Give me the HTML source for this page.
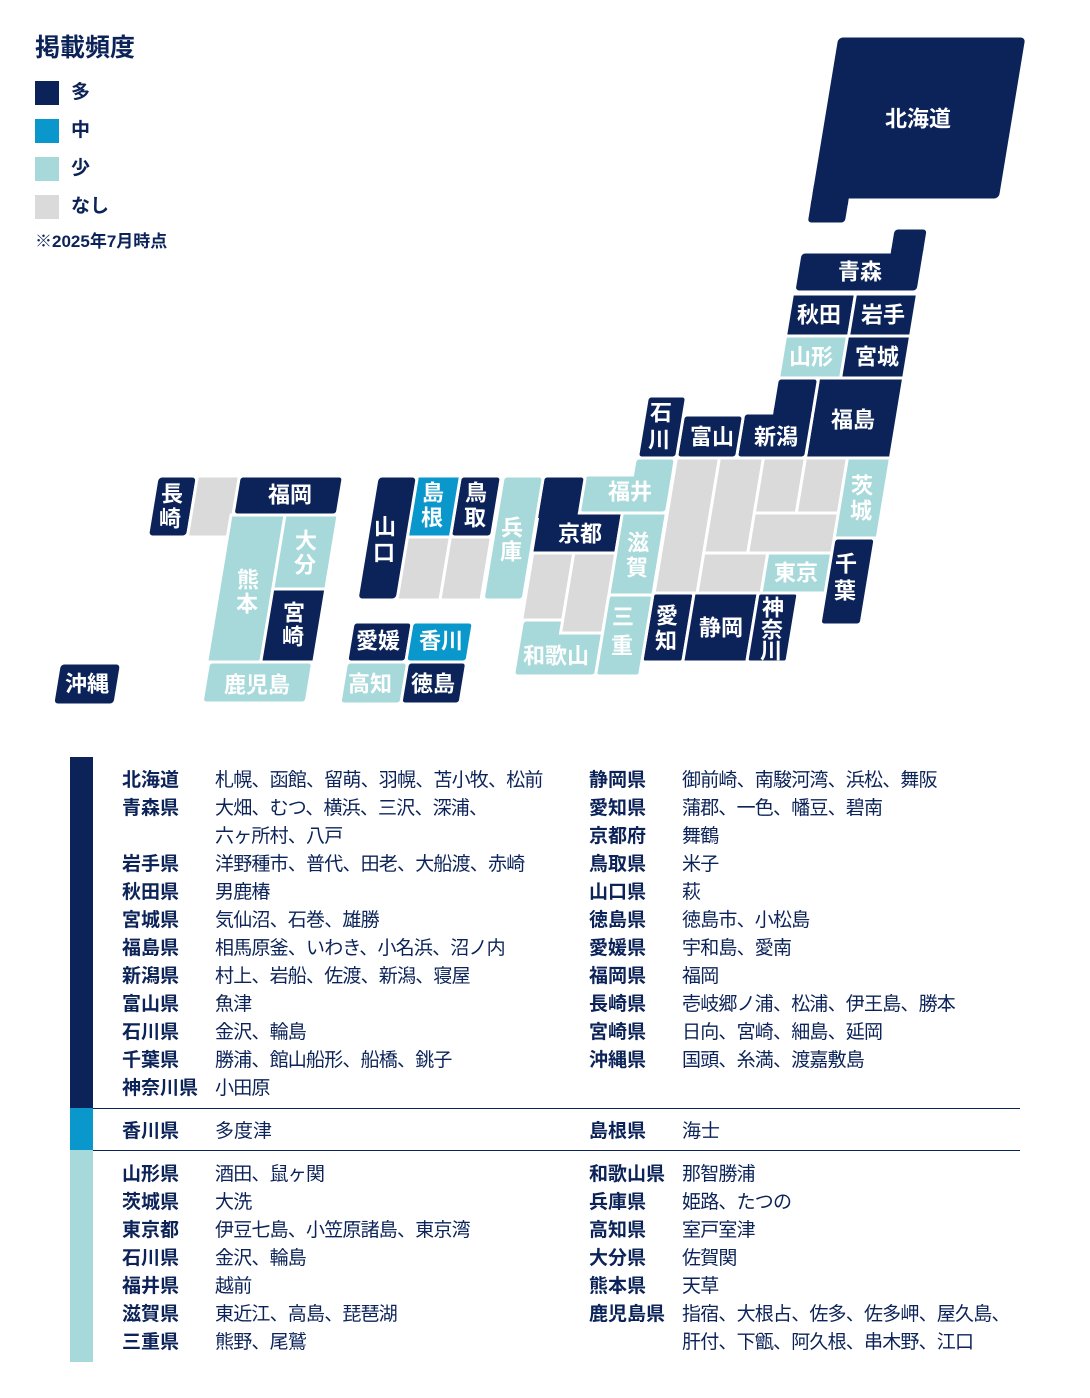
<!DOCTYPE html>
<html><head><meta charset="utf-8"><style>
body{margin:0;background:#fff;width:1090px;height:1398px;position:relative;overflow:hidden;font-family:"Liberation Sans","Noto Sans CJK JP",sans-serif;color:#0c2359}
.a{position:absolute;white-space:nowrap;line-height:28px;font-size:19px}
.v{letter-spacing:-0.8px}
.b{font-weight:bold}
.sq{position:absolute;left:35px;width:24px;height:24px}
</style></head><body>
<div class="a b" style="left:35px;top:34px;font-size:25px">掲載頻度</div>
<div class="sq" style="top:81px;background:#0c2359"></div><div class="a b" style="left:71px;top:79px">多</div>
<div class="sq" style="top:119px;background:#0a98cc"></div><div class="a b" style="left:71px;top:117px">中</div>
<div class="sq" style="top:157px;background:#a7d9da"></div><div class="a b" style="left:71px;top:155px">少</div>
<div class="sq" style="top:195px;background:#dadada"></div><div class="a b" style="left:71px;top:193px">なし</div>
<div class="a b" style="left:35px;top:228px;font-size:17px">※2025年7月時点</div>

<svg width="1090" height="720" style="position:absolute;left:0;top:0">
<g transform="matrix(1 0 -0.165 1 66 0)" stroke="#fff" stroke-width="3">
<rect x="777" y="190" width="40" height="34" rx="5" fill="#0c2359"/>
<rect x="777" y="36" width="190" height="164" rx="6" fill="#0c2359"/>
<rect x="778.5" y="185" width="37" height="20" fill="#0c2359" stroke="none"/>
<rect x="865" y="228" width="35" height="30" rx="5" fill="#0c2359"/>
<rect x="776" y="252" width="124" height="40" rx="5" fill="#0c2359"/>
<rect x="866.5" y="248" width="32" height="8" fill="#0c2359" stroke="none"/>
<rect x="775" y="294" width="63" height="42" fill="#0c2359"/>
<rect x="838" y="294" width="62" height="42" fill="#0c2359"/>
<rect x="775" y="336" width="62" height="42" fill="#a7d9da"/>
<rect x="837" y="336" width="63" height="42" fill="#0c2359"/>
<rect x="815" y="378" width="85" height="80" fill="#0c2359"/>
<rect x="774" y="378" width="41" height="38" rx="4" fill="#0c2359"/>
<rect x="746" y="413" width="69" height="45" rx="4" fill="#0c2359"/>
<rect x="775.5" y="408" width="38" height="10" fill="#0c2359" stroke="none"/>
<rect x="686" y="415" width="60" height="43" rx="4" fill="#0c2359"/>
<rect x="647" y="396" width="39" height="62" rx="4" fill="#0c2359"/>
<rect x="645" y="458" width="40" height="20" rx="4" fill="#a7d9da"/>
<rect x="597" y="475" width="88" height="38" rx="4" fill="#a7d9da"/>
<rect x="646.5" y="472" width="37" height="8" fill="#a7d9da" stroke="none"/>
<rect x="686" y="458" width="43" height="135" fill="#dadada"/>
<rect x="729" y="458" width="44" height="95" fill="#dadada"/>
<rect x="773" y="458" width="42" height="55" fill="#dadada"/>
<rect x="815" y="458" width="42" height="55" fill="#dadada"/>
<rect x="773" y="513" width="84" height="40" fill="#dadada"/>
<rect x="729" y="553" width="64" height="40" fill="#dadada"/>
<rect x="793" y="553" width="64" height="40" fill="#a7d9da"/>
<rect x="857" y="458" width="43" height="80" fill="#a7d9da"/>
<rect x="857" y="538" width="41" height="87" rx="4" fill="#0c2359"/>
<rect x="685" y="593" width="41" height="69" rx="3" fill="#0c2359"/>
<rect x="726" y="593" width="64" height="69" fill="#0c2359"/>
<rect x="790" y="593" width="40" height="69" rx="3" fill="#0c2359"/>
<rect x="556" y="476" width="42" height="40" rx="4" fill="#0c2359"/>
<rect x="557" y="513" width="84" height="40" fill="#0c2359"/>
<rect x="557.5" y="510" width="39" height="8" fill="#0c2359" stroke="none"/>
<rect x="641" y="513" width="44" height="82" fill="#a7d9da"/>
<rect x="559" y="620" width="82" height="56" rx="4" fill="#a7d9da"/>
<rect x="558" y="553" width="41" height="67" fill="#dadada"/>
<rect x="599" y="553" width="42" height="80" fill="#dadada"/>
<rect x="641" y="595" width="44" height="81" rx="3" fill="#a7d9da"/>
<rect x="516" y="476" width="40" height="124" rx="4" fill="#a7d9da"/>
<rect x="473" y="476" width="41" height="61" rx="4" fill="#0c2359"/>
<rect x="430" y="476" width="43" height="61" fill="#0a98cc"/>
<rect x="430" y="537" width="43" height="63" fill="#dadada"/>
<rect x="473" y="537" width="41" height="63" fill="#dadada"/>
<rect x="390" y="476" width="40" height="124" rx="5" fill="#0c2359"/>
<rect x="390" y="622" width="59" height="40" rx="4" fill="#0c2359"/>
<rect x="449" y="622" width="61" height="40" rx="4" fill="#0a98cc"/>
<rect x="390" y="662" width="61" height="42" rx="4" fill="#a7d9da"/>
<rect x="451" y="662" width="59" height="42" rx="4" fill="#0c2359"/>
<rect x="170" y="476" width="40" height="61" rx="5" fill="#0c2359"/>
<rect x="210" y="476" width="42" height="61" fill="#dadada"/>
<rect x="252" y="476" width="104" height="39" rx="4" fill="#0c2359"/>
<rect x="250" y="515" width="54" height="147" fill="#a7d9da"/>
<rect x="304" y="515" width="53" height="74" fill="#a7d9da"/>
<rect x="304" y="589" width="53" height="73" fill="#0c2359"/>
<rect x="252" y="662" width="104" height="41" rx="4" fill="#a7d9da"/>
<rect x="103" y="663" width="62" height="42" rx="5" fill="#0c2359"/>
</g>
<g fill="#fff" font-weight="bold" font-size="22" text-anchor="middle" dominant-baseline="central" font-family="Liberation Sans, Noto Sans CJK JP, sans-serif">
<text x="918" y="119">北海道</text><text x="860" y="272">青森</text>
<text x="819" y="315">秋田</text><text x="883" y="315">岩手</text>
<text x="811" y="357">山形</text><text x="877" y="357">宮城</text>
<text x="853" y="420">福島</text><text x="776" y="437">新潟</text><text x="712" y="437">富山</text>
<text x="661" y="413">石</text><text x="659" y="440">川</text>
<text x="630" y="492">福井</text><text x="580" y="534">京都</text>
<text x="512" y="528">兵</text><text x="511" y="552">庫</text>
<text x="638" y="543">滋</text><text x="637" y="568">賀</text>
<text x="623" y="617">三</text><text x="622" y="646">重</text>
<text x="556" y="656">和歌山</text>
<text x="667" y="616">愛</text><text x="666" y="641">知</text>
<text x="721" y="628">静岡</text>
<text x="773" y="608">神</text><text x="772" y="630">奈</text><text x="771" y="651">川</text>
<text x="796" y="573">東京</text>
<text x="862" y="486">茨</text><text x="861" y="511">城</text>
<text x="846" y="564">千</text><text x="845" y="591">葉</text>
<text x="476" y="493">鳥</text><text x="475" y="518">取</text>
<text x="433" y="493">島</text><text x="432" y="518">根</text>
<text x="385" y="527">山</text><text x="384" y="553">口</text>
<text x="172" y="494">長</text><text x="170" y="519">崎</text>
<text x="290" y="495">福岡</text>
<text x="248" y="580">熊</text><text x="247" y="604">本</text>
<text x="306" y="541">大</text><text x="305" y="565">分</text>
<text x="294" y="613">宮</text><text x="293" y="637">崎</text>
<text x="257" y="685">鹿児島</text>
<text x="378" y="641">愛媛</text><text x="441" y="641">香川</text>
<text x="370" y="684">高知</text><text x="433" y="684">徳島</text>
<text x="87" y="684">沖縄</text>
</g>
</svg>

<div style="position:absolute;left:70px;top:757px;width:23px;height:351px;background:#0c2359"></div>
<div style="position:absolute;left:70px;top:1108px;width:23px;height:42px;background:#0a98cc"></div>
<div style="position:absolute;left:70px;top:1150px;width:23px;height:212px;background:#a7d9da"></div>
<div style="position:absolute;left:93px;top:1108px;width:927px;height:1px;background:#0c2359"></div>
<div style="position:absolute;left:93px;top:1150px;width:927px;height:1px;background:#0c2359"></div>

<div class="a b" style="left:122px;top:767px">北海道<br>青森県<br><br>岩手県<br>秋田県<br>宮城県<br>福島県<br>新潟県<br>富山県<br>石川県<br>千葉県<br>神奈川県</div>
<div class="a v" style="left:215px;top:767px">札幌、函館、留萌、羽幌、苫小牧、松前<br>大畑、むつ、横浜、三沢、深浦、<br>六ヶ所村、八戸<br>洋野種市、普代、田老、大船渡、赤崎<br>男鹿椿<br>気仙沼、石巻、雄勝<br>相馬原釜、いわき、小名浜、沼ノ内<br>村上、岩船、佐渡、新潟、寝屋<br>魚津<br>金沢、輪島<br>勝浦、館山船形、船橋、銚子<br>小田原</div>
<div class="a b" style="left:589px;top:767px">静岡県<br>愛知県<br>京都府<br>鳥取県<br>山口県<br>徳島県<br>愛媛県<br>福岡県<br>長崎県<br>宮崎県<br>沖縄県</div>
<div class="a v" style="left:682px;top:767px">御前崎、南駿河湾、浜松、舞阪<br>蒲郡、一色、幡豆、碧南<br>舞鶴<br>米子<br>萩<br>徳島市、小松島<br>宇和島、愛南<br>福岡<br>壱岐郷ノ浦、松浦、伊王島、勝本<br>日向、宮崎、細島、延岡<br>国頭、糸満、渡嘉敷島</div>

<div class="a b" style="left:122px;top:1118px">香川県</div><div class="a" style="left:215px;top:1118px">多度津</div>
<div class="a b" style="left:589px;top:1118px">島根県</div><div class="a" style="left:682px;top:1118px">海士</div>

<div class="a b" style="left:122px;top:1161px">山形県<br>茨城県<br>東京都<br>石川県<br>福井県<br>滋賀県<br>三重県</div>
<div class="a v" style="left:215px;top:1161px">酒田、鼠ヶ関<br>大洗<br>伊豆七島、小笠原諸島、東京湾<br>金沢、輪島<br>越前<br>東近江、高島、琵琶湖<br>熊野、尾鷲</div>
<div class="a b" style="left:589px;top:1161px">和歌山県<br>兵庫県<br>高知県<br>大分県<br>熊本県<br>鹿児島県</div>
<div class="a v" style="left:682px;top:1161px">那智勝浦<br>姫路、たつの<br>室戸室津<br>佐賀関<br>天草<br>指宿、大根占、佐多、佐多岬、屋久島、<br>肝付、下甑、阿久根、串木野、江口</div>
</body></html>
